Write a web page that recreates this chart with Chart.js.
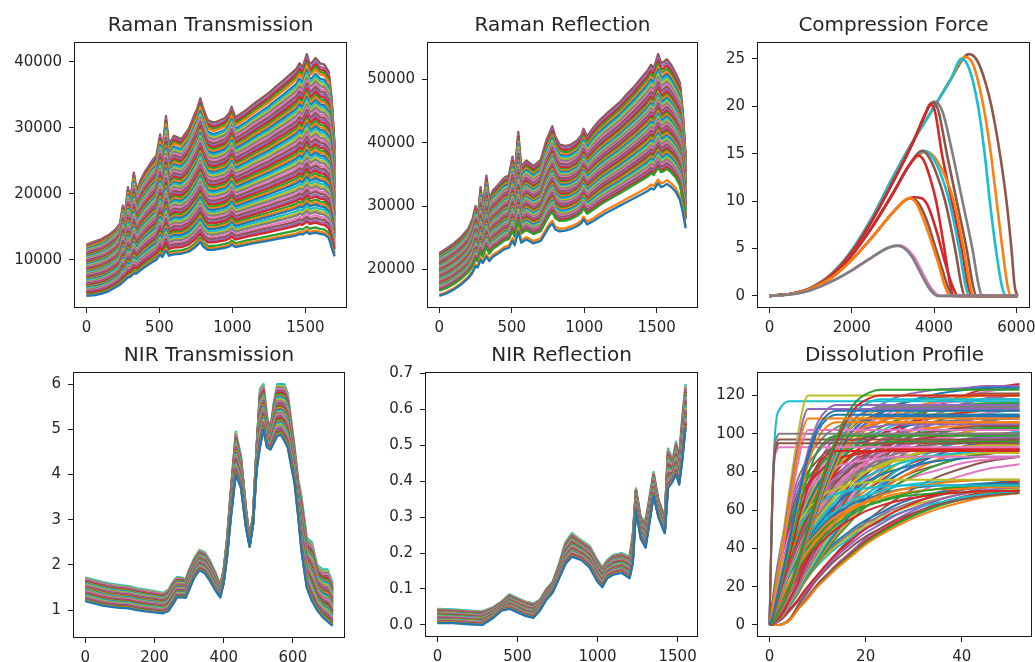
<!DOCTYPE html>
<html lang="en">
<head>
<meta charset="UTF-8">
<title>Spectra and process profiles</title>
<script src="https://cdn.jsdelivr.net/npm/chart.js"></script>
<style>
  body { margin: 0; background: #fff; width: 1035px; height: 662px; overflow: hidden; position: relative; }
  canvas { position: absolute; }
</style>
</head>
<body>
<canvas id="rt"></canvas>
<canvas id="rr"></canvas>
<canvas id="cf"></canvas>
<canvas id="nt"></canvas>
<canvas id="nr"></canvas>
<canvas id="dp"></canvas>

<script>
// ---- Raman (shared channel grid) ----
const ramanX = [0,50,100,150,200,230,250,265,285,300,325,345,370,400,450,480,505,520,545,565,600,650,700,740,760,780,800,830,870,900,950,980,995,1020,1060,1100,1150,1200,1250,1300,1350,1400,1440,1460,1480,1510,1530,1545,1570,1600,1630,1660,1680,1700];

const rtUpper = [12300,12700,13100,13700,14600,15500,18200,17000,21000,18800,23200,20500,22000,23300,25000,25800,29000,26500,31800,27500,28800,28300,29800,32000,33000,34500,33000,31200,30800,31000,31500,32300,33200,31600,32200,32800,33700,34500,35300,36300,37200,38200,39000,39800,39200,41200,39700,39900,40600,39800,39600,38500,34500,27500];
const rtLower = [4500,4600,4800,5200,5800,6200,6600,6900,7300,7400,7900,7900,8400,8900,9600,10000,10800,10400,11400,10600,10800,10900,11200,11800,12200,12700,12000,11500,11500,11600,11800,12000,12300,11900,12100,12300,12500,12700,12900,13100,13300,13500,13700,13900,13800,14200,13900,14000,14100,13900,13800,13300,11800,10500];
// position of each spectrum inside the band (0 = lowest, 1 = highest)
const rtLevels = [0,0.012,0.03,0.058,0.07,0.085,0.1,0.118,0.13,0.145,0.162,0.175,0.19,0.207,0.22,0.236,0.25,0.266,0.28,0.295,0.312,0.325,0.34,0.356,0.37,0.385,0.4,0.417,0.43,0.446,0.46,0.475,0.49,0.506,0.52,0.536,0.55,0.565,0.58,0.596,0.61,0.625,0.64,0.656,0.67,0.685,0.7,0.716,0.73,0.745,0.76,0.776,0.79,0.806,0.82,0.835,0.85,0.866,0.88,0.895,0.91,0.935,0.95,0.965,0.98,1];

const rrUpper = [22600,23300,24100,25100,26400,28000,30000,28000,33000,29500,34800,31000,32500,33200,34500,34800,37800,35000,41700,36200,37200,36300,37300,40500,41500,42600,41000,39700,39500,39600,40300,41200,42200,41000,42300,43400,44500,45500,46500,47800,49000,50400,51500,52300,51800,54000,52600,52700,53200,52300,51000,49500,45000,38000];
const rrLower = [15800,16200,16800,17600,18600,19500,20500,20300,21500,21000,22000,21300,22000,22400,23200,23400,24500,23800,26000,24200,24700,24100,24500,26000,26800,27200,26300,26000,26100,26300,26800,27300,27900,27100,27600,28200,28900,29500,30100,30700,31300,31900,32400,32800,32600,33600,33000,33100,33500,33000,32300,31000,29000,26500];
const rrLevels = [0,0.03,0.12,0.135,0.15,0.165,0.18,0.196,0.21,0.226,0.24,0.256,0.27,0.286,0.3,0.316,0.33,0.346,0.36,0.376,0.39,0.406,0.42,0.436,0.45,0.466,0.48,0.496,0.51,0.526,0.54,0.556,0.57,0.586,0.6,0.616,0.63,0.646,0.66,0.676,0.69,0.706,0.72,0.74,0.76,0.78,0.8,0.82,0.84,0.86,0.88,0.9,0.925,0.95,0.975,1];

// ---- NIR ----
const ntX = [0,25,50,75,100,125,150,175,200,225,240,255,265,280,290,300,315,330,345,360,375,390,400,410,420,435,450,465,475,485,495,505,515,525,535,545,555,565,575,585,595,605,615,625,640,655,670,685,700,715];
const ntUpper = [1.72,1.67,1.62,1.58,1.55,1.53,1.48,1.45,1.42,1.38,1.45,1.65,1.73,1.72,1.68,1.9,2.15,2.33,2.28,2.1,1.85,1.55,1.9,2.6,3.6,4.95,4.4,3.2,2.6,3.1,4.6,5.9,6.0,5.3,5.0,5.6,6.0,6.0,6.0,5.8,5.2,4.6,3.9,3.5,2.6,2.5,2.0,1.9,1.9,1.6];
const ntLower = [1.2,1.15,1.1,1.07,1.05,1.04,1.0,0.97,0.95,0.93,0.98,1.15,1.28,1.28,1.27,1.45,1.72,1.88,1.82,1.65,1.45,1.28,1.6,2.2,3.0,4.0,3.7,2.8,2.4,2.9,4.1,4.6,5.0,4.6,4.55,4.7,4.85,4.88,4.75,4.6,4.2,3.8,3.1,2.3,1.5,1.2,1.0,0.85,0.75,0.65];
const ntLevels = [0,0.02,0.05,0.07,0.1,0.13,0.15,0.17,0.2,0.23,0.25,0.27,0.3,0.33,0.35,0.37,0.4,0.43,0.45,0.47,0.5,0.53,0.55,0.57,0.6,0.63,0.65,0.67,0.7,0.73,0.75,0.77,0.8,0.83,0.85,0.87,0.9,0.93,0.96,1];

const nrX = [0,100,200,280,350,400,450,500,550,600,640,680,720,760,800,840,870,900,950,1000,1030,1060,1100,1150,1200,1220,1240,1270,1300,1330,1350,1380,1420,1440,1470,1490,1510,1530,1550];
const nrUpper = [0.045,0.043,0.04,0.038,0.05,0.065,0.085,0.075,0.065,0.06,0.07,0.1,0.12,0.17,0.23,0.255,0.245,0.235,0.22,0.18,0.16,0.18,0.195,0.2,0.19,0.25,0.38,0.3,0.29,0.37,0.425,0.35,0.3,0.49,0.46,0.51,0.47,0.58,0.67];
const nrLower = [0.005,0.005,0.002,0.0,0.02,0.04,0.045,0.035,0.025,0.02,0.04,0.07,0.09,0.13,0.17,0.19,0.185,0.18,0.16,0.12,0.105,0.13,0.14,0.145,0.13,0.17,0.32,0.24,0.215,0.3,0.36,0.3,0.255,0.38,0.4,0.42,0.39,0.46,0.55];
const nrLevels = [0,0.03,0.05,0.08,0.1,0.12,0.15,0.18,0.2,0.22,0.25,0.28,0.3,0.32,0.35,0.38,0.4,0.42,0.45,0.48,0.5,0.52,0.55,0.58,0.6,0.62,0.65,0.68,0.7,0.72,0.75,0.78,0.8,0.82,0.85,0.88,0.9,0.93,0.96,1];

// ---- Compression force: rising part per peak level, then each tablet's release ----
const cfRise25 = [[0,0],[500,0.2],[1000,0.85],[1500,2.3],[2000,4.8],[2500,8.3],[3000,12.5],[3500,16.4],[4000,19.9],[4400,22.8]];
const cfRise20 = [[0,0],[500,0.2],[1000,0.8],[1500,2.2],[2000,4.6],[2500,8.0],[3000,12.0],[3500,16.3],[3800,19.3]];
const cfRise15 = [[0,0],[500,0.2],[1000,0.8],[1500,2.1],[2000,4.3],[2500,7.3],[3000,10.8],[3400,13.8]];
const cfRise10 = [[0,0],[500,0.2],[1000,0.75],[1500,1.9],[2000,3.8],[2500,6.2],[3000,8.8],[3300,10.1]];
const cfRise5 = [[0,0],[500,0.15],[1000,0.6],[1500,1.5],[2000,2.7],[2500,4.1],[2900,5.1]];

const cfRelease = [
  [5, [[3100,5.3],[3250,5.1],[3450,4.2],[3650,2.6],[3850,1.0],[4000,0.2],[4100,0],[6030,0]]],
  [5, [[3150,5.3],[3300,5.1],[3500,4.2],[3700,2.6],[3900,1.0],[4050,0.2],[4150,0],[6030,0]]],
  [10, [[3400,10.3],[3550,9.9],[3750,8],[3950,5.5],[4100,3.5],[4250,1.2],[4350,0.2],[4420,0],[6030,0]]],
  [10, [[3450,10.3],[3620,9.8],[3820,8],[4020,5.3],[4200,2.8],[4350,0.8],[4480,0],[6030,0]]],
  [10, [[3500,10.4],[3700,10.3],[3850,9.5],[4050,7],[4250,3.8],[4450,1],[4580,0],[6030,0]]],
  [15, [[3600,14.8],[3750,14.3],[3900,12.5],[4050,10],[4250,5],[4400,1],[4480,0],[6030,0]]],
  [15, [[3700,15.3],[3850,14.8],[4050,13],[4270,10],[4510,5],[4670,1],[4750,0],[6030,0]]],
  [15, [[3750,15.3],[3930,14.8],[4150,13],[4370,10],[4610,5],[4770,1],[4850,0],[6030,0]]],
  [15, [[3800,15.2],[4000,14.7],[4250,12.8],[4480,10],[4720,5],[4880,1],[4960,0],[6030,0]]],
  [20, [[3900,20.2],[4020,19.5],[4190,15],[4430,10],[4670,5],[4830,1],[4910,0],[6030,0]]],
  [20, [[3950,20.4],[4100,19.6],[4310,15],[4550,10],[4790,5],[4950,1],[5030,0],[6030,0]]],
  [20, [[4000,20.5],[4200,19.5],[4450,15],[4690,10],[4930,5],[5090,1],[5170,0],[6030,0]]],
  [25, [[4670,25],[4850,24],[5070,20],[5230,15],[5355,10],[5500,5],[5650,1],[5750,0],[6030,0]]],
  [25, [[4750,25.2],[4950,24.4],[5200,20],[5380,15],[5520,10],[5660,5],[5790,1],[5870,0],[6030,0]]],
  [25, [[4850,25.5],[5050,24.8],[5250,22.5],[5395,20],[5600,15],[5760,10],[5880,5],[5960,1],[6030,0]]]
];
const cfColors = ['#7f7f7f','#e377c2','#ff7f0e','#8c564b','#d62728','#d62728','#8c564b','#17becf','#ff7f0e','#d62728','#8c564b','#7f7f7f','#17becf','#ff7f0e','#8c564b'];

// ---- Dissolution: time grid, release shapes (fraction of plateau), tablets ----
const dpX = [0,0.5,1,1.5,2,3,4,5,6,7,8,10,12,14,16,18,20,23,26,30,35,40,45,52];
const dpShapes = [
  [0,0.6,0.92,0.98,1,1,1,1,1,1,1,1,1,1,1,1,1,1,1,1,1,1,1,1],
  [0,0.45,0.8,0.93,0.96,0.99,1,1,1,1,1,1,1,1,1,1,1,1,1,1,1,1,1,1],
  [0,0.06,0.13,0.2,0.27,0.42,0.57,0.71,0.84,0.95,1,1,1,1,1,1,1,1,1,1,1,1,1,1],
  [0,0.03,0.07,0.12,0.17,0.27,0.38,0.49,0.6,0.7,0.79,0.92,0.98,1,1,1,1,1,1,1,1,1,1,1],
  [0,0.01,0.02,0.04,0.06,0.1,0.15,0.21,0.28,0.35,0.42,0.56,0.69,0.8,0.89,0.95,0.98,1,1,1,1,1,1,1],
  [0,0.09,0.18,0.26,0.33,0.45,0.55,0.63,0.7,0.75,0.8,0.86,0.91,0.94,0.96,0.97,0.98,0.99,1,1,1,1,1,1],
  [0,0.05,0.1,0.15,0.2,0.28,0.36,0.43,0.49,0.54,0.59,0.67,0.74,0.79,0.83,0.87,0.89,0.92,0.95,0.97,0.985,0.99,1,1],
  [0,0.01,0.03,0.05,0.07,0.12,0.17,0.22,0.27,0.32,0.36,0.44,0.51,0.57,0.62,0.67,0.71,0.76,0.81,0.86,0.9,0.94,0.96,0.98],
  [0,0,0,0,0,0.01,0.03,0.07,0.12,0.16,0.2,0.29,0.36,0.43,0.49,0.55,0.61,0.68,0.74,0.81,0.88,0.93,0.97,1],
  [0,0.03,0.07,0.11,0.15,0.22,0.29,0.35,0.41,0.46,0.51,0.59,0.66,0.72,0.77,0.81,0.85,0.89,0.92,0.95,0.975,0.99,1,1],
  [0,0,0.01,0.02,0.03,0.06,0.1,0.14,0.18,0.23,0.27,0.35,0.43,0.5,0.56,0.62,0.67,0.73,0.79,0.85,0.91,0.95,0.98,1]
];
// [shape, plateau %]
const dpTablets = [
  [3,112],[2,108],[4,123],[4,120],[2,113],[0,95],[2,102],[0,100],[2,120],[1,117],
  [3,110],[3,106],[3,99],[3,91],[3,115],[0,97],[0,93],
  [4,114],[4,112],[4,118],[4,109],[4,106],
  [5,96],[5,92],[5,105],[5,100],[5,88],[5,110],[5,76],[5,73],
  [9,124],[9,120],[9,116],[9,112],[9,108],[9,104],[9,100],[9,97],[9,94],[9,91],[9,88],[9,76],[9,73],[9,70],
  [6,125],[6,121],[6,118],[6,115],[6,112],[6,110],[6,108],[6,105],[6,103],[6,100],[6,98],[6,96],[6,94],[6,92],[6,90],[6,76],[6,74],[6,72],[6,70],
  [10,126],[10,121],[10,117],[10,113],[10,109],[10,105],[10,101],[10,98],[10,95],[10,92],[10,75],[10,72],[10,69],
  [7,127],[7,123],[7,119],[7,115],[7,111],[7,107],[7,103],[7,99],[7,96],[7,93],[7,90],[7,75],[7,73],[7,71],[7,77],
  [8,69],[8,70.5],[8,72],[8,74],[8,88],[8,84],[8,71]
];

// ---- tick labels ----
const rtXTicks = [0,500,1000,1500], rtYTicks = [10000,20000,30000,40000];
const rrXTicks = [0,500,1000,1500], rrYTicks = [20000,30000,40000,50000];
const cfXTicks = [0,2000,4000,6000], cfYTicks = [0,5,10,15,20,25];
const ntXTicks = [0,200,400,600], ntYTicks = [1,2,3,4,5,6];
const nrXTicks = [0,500,1000,1500], nrYTicks = [0,0.1,0.2,0.3,0.4,0.5,0.6,0.7];
const dpXTicks = [0,20,40], dpYTicks = [0,20,40,60,80,100,120];

const tab10 = ['#1f77b4','#ff7f0e','#2ca02c','#d62728','#9467bd','#8c564b','#e377c2','#7f7f7f','#bcbd22','#17becf'];

function bandSeries(xs, lower, upper, levels) {
  return levels.map((t, i) => ({
    data: xs.map((x, k) => ({ x: x, y: lower[k] + t * (upper[k] - lower[k]) })),
    borderColor: tab10[i % 10]
  }));
}

function compressionSeries() {
  const rises = { 5: cfRise5, 10: cfRise10, 15: cfRise15, 20: cfRise20, 25: cfRise25 };
  return cfRelease.map((c, i) => ({
    data: rises[c[0]].concat(c[1]).map(p => ({ x: p[0], y: p[1] })),
    borderColor: cfColors[i]
  }));
}

function dissolutionSeries() {
  return dpTablets.map((t, i) => ({
    data: dpX.map((x, k) => ({ x: x, y: dpShapes[t[0]][k] * t[1] })),
    borderColor: tab10[i % 10]
  }));
}

// matplotlib style 5% margins
function range5(datasets, key) {
  let lo = Infinity, hi = -Infinity;
  datasets.forEach(d => d.data.forEach(p => { lo = Math.min(lo, p[key]); hi = Math.max(hi, p[key]); }));
  const m = (hi - lo) * 0.05;
  return [lo - m, hi + m];
}

const frame = {
  id: 'frame',
  afterDatasetsDraw(chart) {
    const a = chart.chartArea, ctx = chart.ctx;
    ctx.save();
    ctx.strokeStyle = '#1a1a1a';
    ctx.lineWidth = 1;
    ctx.strokeRect(Math.round(a.left) + 0.5, Math.round(a.top) + 0.5, Math.round(a.right - a.left) - 1, Math.round(a.bottom - a.top) - 1);
    ctx.restore();
  }
};

const font = 'DejaVu Sans';
// same room left and right of the box so the title is centred over it
const yAxW = 70, xAxH = 40, rightPad = 70, titleH = 34;

function panel(id, box, title, datasets, xTicks, yTicks, yFmt, lineWidth, smooth) {
  const cv = document.getElementById(id);
  cv.width = box[2] - box[0] + yAxW + rightPad;
  cv.height = box[3] - box[1] + titleH + xAxH;
  cv.style.left = (box[0] - yAxW) + 'px';
  cv.style.top = (box[1] - titleH) + 'px';

  const xr = range5(datasets, 'x'), yr = range5(datasets, 'y');
  datasets.forEach(d => {
    d.borderWidth = lineWidth;
    d.pointRadius = 0;
    d.fill = false;
    d.tension = 0;
    d.borderJoinStyle = 'round';
    if (smooth) d.cubicInterpolationMode = 'monotone';
  });

  const axis = (ticks, fmt, fit) => ({
    type: 'linear',
    afterBuildTicks: s => { s.ticks = ticks.map(v => ({ value: v })); },
    afterFit: fit,
    grid: { drawOnChartArea: false, drawTicks: true, tickLength: 5, color: '#1a1a1a' },
    border: { display: false },
    ticks: { color: '#262626', padding: 6, autoSkip: false, maxRotation: 0, font: { family: font, size: 15 }, callback: v => fmt(v) }
  });

  const xAxis = axis(xTicks, v => String(v), s => { s.height = xAxH; });
  xAxis.min = xr[0]; xAxis.max = xr[1];
  const yAxis = axis(yTicks, yFmt, s => { s.width = yAxW; });
  yAxis.min = yr[0]; yAxis.max = yr[1];
  yAxis.ticks.padding = 7;
  // empty strip on the right, balancing the y axis
  const spacer = {
    type: 'linear', position: 'right', display: true,
    grid: { display: false }, border: { display: false }, ticks: { display: false },
    afterFit: s => { s.width = rightPad; }
  };

  new Chart(cv, {
    type: 'line',
    data: { datasets: datasets },
    options: {
      responsive: false,
      animation: false,
      events: [],
      plugins: {
        legend: { display: false },
        tooltip: { enabled: false },
        title: { display: true, text: title, color: '#262626', font: { family: font, size: 20, weight: 'normal' }, padding: { top: 5.5, bottom: 4.5 } }
      },
      scales: { x: xAxis, y: yAxis, spacer: spacer }
    },
    plugins: [frame]
  });
}

const intFmt = v => String(v);

panel('rt', [74, 42, 347, 308], 'Raman Transmission', bandSeries(ramanX, rtLower, rtUpper, rtLevels), rtXTicks, rtYTicks, intFmt, 2.3, false);
panel('rr', [427, 42, 698, 308], 'Raman Reflection', bandSeries(ramanX, rrLower, rrUpper, rrLevels), rrXTicks, rrYTicks, intFmt, 2.3, false);
panel('cf', [757, 42, 1030, 308], 'Compression Force', compressionSeries(), cfXTicks, cfYTicks, intFmt, 2.6, true);
panel('nt', [73, 372, 345, 638], 'NIR Transmission', bandSeries(ntX, ntLower, ntUpper, ntLevels), ntXTicks, ntYTicks, intFmt, 2.3, false);
panel('nr', [425, 372, 698, 637], 'NIR Reflection', bandSeries(nrX, nrLower, nrUpper, nrLevels), nrXTicks, nrYTicks, v => v.toFixed(1), 2.3, false);
panel('dp', [757, 372, 1032, 637], 'Dissolution Profile', dissolutionSeries(), dpXTicks, dpYTicks, intFmt, 2.0, true);
</script>
</body>
</html>
